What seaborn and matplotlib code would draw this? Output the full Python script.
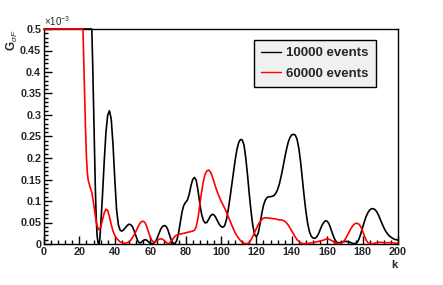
import matplotlib
matplotlib.use("Agg")
import matplotlib.pyplot as plt
from matplotlib.ticker import MultipleLocator
import seaborn as sns
import pandas as pd

# ---- data (values in units of 1e-3) ----
k_black = [0, 26, 27, 27.5, 28, 28.5, 29, 29.5, 30, 30.5, 31, 31.5, 32, 33, 34, 35, 36, 37, 38, 39, 40,
           41, 42, 43, 44, 45, 46, 47, 48, 49, 50, 51, 52, 53, 54, 55, 56, 57, 58, 59, 60,
           61, 62, 63, 64, 65, 66, 67, 68, 69, 70, 71, 72, 73, 74, 75, 76, 77, 78, 79, 80,
           81, 82, 83, 84, 85, 86, 87, 88, 89, 90, 91, 92, 93, 94, 95, 96, 97, 98, 99, 100,
           101, 102, 103, 104, 105, 106, 107, 108, 109, 110, 111, 112, 113, 114, 115, 116, 117, 118, 119, 120,
           121, 122, 123, 124, 125, 126, 127, 128, 129, 130, 131, 132, 133, 134, 135, 136, 137, 138, 139, 140,
           141, 142, 143, 144, 145, 146, 147, 148, 149, 150, 151, 152, 153, 154, 155, 156, 157, 158, 159, 160,
           161, 162, 163, 164, 165, 166, 167, 168, 169, 170, 171, 172, 173, 174, 175, 176, 177, 178, 179, 180,
           181, 182, 183, 184, 185, 186, 187, 188, 189, 190, 191, 192, 193, 194, 195, 196, 197, 198, 199, 200]
g_black = [0.5, 0.5, 0.5, 0.42, 0.32, 0.22, 0.13, 0.06, 0.02, 0.003, 0.0, 0.01, 0.04, 0.11, 0.19, 0.26, 0.30, 0.31, 0.29, 0.23, 0.15,
           0.08, 0.045, 0.032, 0.03, 0.033, 0.038, 0.043, 0.046, 0.045, 0.04, 0.03, 0.018, 0.007, 0.002, 0.004, 0.008, 0.01, 0.009, 0.005, 0.002,
           0.001, 0.002, 0.006, 0.014, 0.025, 0.035, 0.041, 0.043, 0.041, 0.033, 0.02, 0.008, 0.002, 0.001, 0.008, 0.025, 0.05, 0.075, 0.09, 0.097,
           0.102, 0.115, 0.135, 0.15, 0.155, 0.148, 0.125, 0.095, 0.07, 0.055, 0.049, 0.05, 0.057, 0.065, 0.069, 0.068, 0.062, 0.054, 0.046, 0.041,
           0.039, 0.042, 0.055, 0.078, 0.105, 0.135, 0.165, 0.195, 0.22, 0.236, 0.243, 0.242, 0.23, 0.2, 0.16, 0.115, 0.075, 0.042, 0.022, 0.017,
           0.025, 0.045, 0.07, 0.09, 0.102, 0.108, 0.11, 0.11, 0.111, 0.113, 0.118, 0.127, 0.14, 0.158, 0.178, 0.2, 0.22, 0.237, 0.248, 0.254,
           0.255, 0.253, 0.243, 0.222, 0.19, 0.15, 0.11, 0.075, 0.047, 0.028, 0.018, 0.014, 0.013, 0.016, 0.023, 0.033, 0.043, 0.05, 0.054, 0.053,
           0.047, 0.036, 0.024, 0.013, 0.006, 0.003, 0.003, 0.004, 0.005, 0.006, 0.006, 0.005, 0.004, 0.002, 0.001, 0.001, 0.004, 0.012, 0.024, 0.038,
           0.052, 0.064, 0.073, 0.079, 0.082, 0.082, 0.08, 0.075, 0.067, 0.057, 0.047, 0.038, 0.03, 0.024, 0.019, 0.016, 0.013, 0.011, 0.01, 0.009]

k_red = [0, 22, 22.5, 23, 23.5, 24, 24.5, 25, 25.5, 26, 27, 28, 29, 30, 31, 32, 33, 34, 35, 36, 37, 38, 39, 40,
         41, 42, 43, 44, 45, 46, 47, 48, 49, 50, 51, 52, 53, 54, 55, 56, 57, 58, 59, 60,
         61, 62, 63, 64, 65, 66, 67, 68, 69, 70, 71, 72, 73, 74, 75, 76, 77, 78, 79, 80,
         81, 82, 83, 84, 85, 86, 87, 88, 89, 90, 91, 92, 93, 94, 95, 96, 97, 98, 99, 100,
         101, 102, 103, 104, 105, 106, 107, 108, 109, 110, 111, 112, 113, 114, 115, 116, 117, 118, 119, 120,
         121, 122, 123, 124, 125, 126, 127, 128, 129, 130, 131, 132, 133, 134, 135, 136, 137, 138, 139, 140,
         141, 142, 143, 144, 145, 146, 147, 148, 149, 150, 152, 154, 156, 158, 159, 160,
         161, 162, 163, 164, 165, 166, 167, 168, 169, 170, 171, 172, 173, 174, 175, 176, 177, 178, 179, 180,
         181, 182, 183, 184, 185, 186, 187, 188, 190, 192, 194, 196, 198, 200]
g_red = [0.5, 0.5, 0.42, 0.33, 0.26, 0.2, 0.165, 0.148, 0.14, 0.133, 0.12, 0.095, 0.065, 0.042, 0.033, 0.038, 0.055, 0.072, 0.081, 0.078, 0.063, 0.045, 0.03, 0.02,
         0.013, 0.009, 0.005, 0.003, 0.002, 0.002, 0.003, 0.005, 0.009, 0.015, 0.022, 0.03, 0.039, 0.047, 0.052, 0.053, 0.05, 0.041, 0.028, 0.016,
         0.008, 0.005, 0.006, 0.009, 0.011, 0.012, 0.011, 0.008, 0.004, 0.001, 0.002, 0.007, 0.013, 0.018, 0.021, 0.022, 0.023, 0.024, 0.025, 0.026,
         0.027, 0.028, 0.029, 0.03, 0.032, 0.04, 0.06, 0.09, 0.12, 0.145, 0.162, 0.17, 0.172, 0.168, 0.158, 0.145, 0.132, 0.12, 0.11, 0.1,
         0.092, 0.084, 0.075, 0.065, 0.055, 0.045, 0.035, 0.026, 0.019, 0.013, 0.008, 0.004, 0.002, 0.001, 0.001, 0.004, 0.01, 0.018, 0.027, 0.036,
         0.045, 0.052, 0.057, 0.06, 0.061, 0.061, 0.06, 0.06, 0.059, 0.059, 0.058, 0.057, 0.056, 0.056, 0.055, 0.053, 0.049, 0.044, 0.037, 0.03,
         0.023, 0.016, 0.01, 0.006, 0.003, 0.001, 0.001, 0.001, 0.001, 0.002, 0.003, 0.005, 0.007, 0.009, 0.011, 0.012,
         0.011, 0.009, 0.007, 0.004, 0.002, 0.001, 0.001, 0.002, 0.005, 0.01, 0.017, 0.025, 0.033, 0.04, 0.045, 0.048, 0.048, 0.046, 0.04, 0.03,
         0.019, 0.009, 0.003, 0.001, 0.001, 0.001, 0.002, 0.003, 0.004, 0.003, 0.003, 0.003, 0.002, 0.002]

series_names = ["10000 events", "60000 events"]
colors = ["black", "red"]

df = pd.concat([
    pd.DataFrame({"k": k_black, "G": g_black, "series": series_names[0]}),
    pd.DataFrame({"k": k_red, "G": g_red, "series": series_names[1]}),
], ignore_index=True)

sns.set_style("white")
plt.rcParams['font.family'] = ['Liberation Sans', 'DejaVu Sans']
plt.rcParams['mathtext.fontset'] = 'custom'
plt.rcParams['mathtext.rm'] = 'Liberation Sans'
plt.rcParams['mathtext.it'] = 'Liberation Sans:italic'
plt.rcParams['mathtext.bf'] = 'Liberation Sans:bold'

fig = plt.figure(figsize=(4.43, 2.85), dpi=100)
ax = fig.add_axes([44 / 443, 1 - 244 / 285, (398 - 44) / 443, (244 - 29) / 285])

sns.lineplot(data=df, x="k", y="G", hue="series", palette=dict(zip(series_names, colors)),
             linewidth=1.2, ax=ax, sort=False, estimator=None)
lines = ax.get_lines()
for i, ln in enumerate(lines):
    ln.set_clip_on(False)
    ln.set_zorder(3 + i)

ax.set_xlim(0, 200)
ax.set_ylim(0, 0.5)
ax.xaxis.set_major_locator(MultipleLocator(20))
ax.xaxis.set_minor_locator(MultipleLocator(4))
ax.yaxis.set_major_locator(MultipleLocator(0.05))
ax.yaxis.set_minor_locator(MultipleLocator(0.01))
ax.yaxis.set_major_formatter(plt.FuncFormatter(lambda v, p: ('%g' % round(v, 3))))
ax.tick_params(axis='both', which='major', direction='in', length=6, width=1, color='black',
               labelsize=7.8, pad=2, top=False, right=False, bottom=True, left=True)
ax.tick_params(axis='both', which='minor', direction='in', length=3, width=1, color='black',
               top=False, right=False, bottom=True, left=True)
for lab in ax.get_xticklabels() + ax.get_yticklabels():
    lab.set_fontweight('bold')
for s in ax.spines.values():
    s.set_color('black')
    s.set_linewidth(1)
    s.set_zorder(2.5)

ax.set_xlabel("k", fontsize=8, fontweight='bold', loc='right', labelpad=2)
ax.set_ylabel(r"G$_{\sigma F}$", fontsize=8.5, fontweight='bold', loc='top', labelpad=0)
ax.text(0.0, 1.005, r"$\times$10$^{-3}$", transform=ax.transAxes, fontsize=7, ha='left', va='bottom')

leg = ax.legend(loc='upper right', bbox_to_anchor=(0.938, 0.949), borderaxespad=0, fontsize=9.5,
                frameon=True, fancybox=False, edgecolor='black', facecolor='#f0f0f0', framealpha=1,
                handlelength=1.5, handletextpad=0.4, borderpad=0.55, labelspacing=0.6, title=None)
leg.get_frame().set_linewidth(1)
leg.set_zorder(10)
for t in leg.get_texts():
    t.set_fontweight('bold')
for h in leg.get_lines():
    h.set_linewidth(1.0)

fig.savefig("out.png", dpi=100)
